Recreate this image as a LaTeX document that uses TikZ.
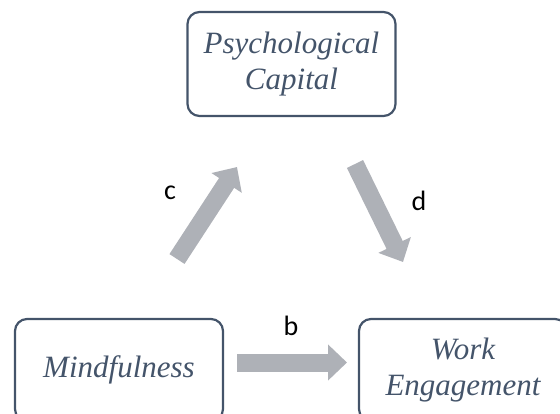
\documentclass[tikz,border=0pt]{standalone}
\usepackage{fontspec}
\setmainfont{Liberation Serif}
\newfontfamily\lblfont{Carlito}
\usetikzlibrary{arrows.meta}
\definecolor{boxcol}{RGB}{68,84,106}
\definecolor{arrowgray}{RGB}{174,177,183}
\tikzset{
  construct/.style={draw=boxcol, line width=2.2pt, rounded corners=12pt,
    text=boxcol, align=center, minimum width=208pt, minimum height=102pt,
    inner sep=0pt, font=\fontsize{31}{36}\selectfont\itshape},
  blockarrow/.style={draw=arrowgray, line width=18pt,
    -{Triangle[length=19pt,width=35pt]}, arrowgray},
  pathlabel/.style={font=\lblfont\fontsize{28}{32}\selectfont, text=black}
}
\begin{document}
\begin{tikzpicture}[x=1pt,y=-1pt]
  \useasboundingbox (0,0) rectangle (560,413);
  % constructs
  \node[construct, minimum height=104pt] (pc) at (291.5,64) {Psychological\\Capital};
  \node[construct] (mf) at (119,370) {Mindfulness};
  \node[construct] (we) at (463,370) {Work\\Engagement};
  % ends of the path arrows
  \coordinate (cs) at (177,259);
  \coordinate (ce) at (237,167);
  \coordinate (ds) at (355,164);
  \coordinate (de) at (403,262);
  \coordinate (bs) at (237,362.5);
  \coordinate (be) at (347,362.5);
  \draw[blockarrow] (cs) -- (ce);
  \draw[blockarrow] (ds) -- (de);
  \draw[blockarrow] (bs) -- (be);
  % path labels
  \node[pathlabel] (lc) at (170,193) {c};
  \node[pathlabel] (ld) at (419,201) {d};
  \node[pathlabel] (lb) at (291,326) {b};
\end{tikzpicture}
\end{document}
